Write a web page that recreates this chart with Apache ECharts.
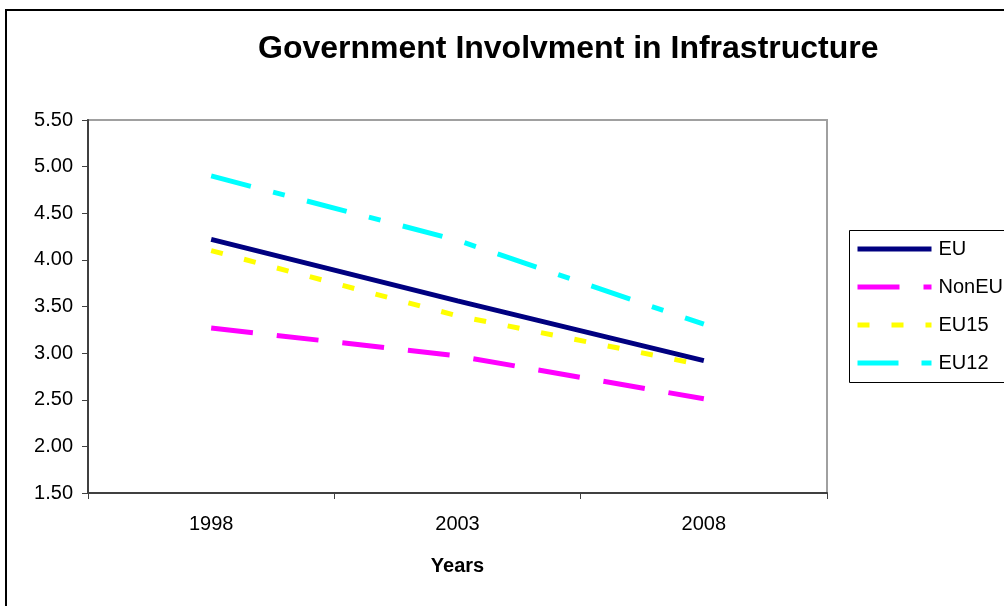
<!DOCTYPE html>
<html>
<head>
<meta charset="utf-8">
<script src="https://cdn.jsdelivr.net/npm/echarts@6/dist/echarts.min.js"></script>
<style>
  html, body { margin: 0; padding: 0; background: #fff; }
  #chart { width: 1004px; height: 606px; }
</style>
</head>
<body>
<div id="chart"></div>
<script>
// Index values per survey year
const years = ['1998', '2003', '2008'];
const seriesNames = ['EU', 'NonEU', 'EU15', 'EU12'];
const euValues = [4.22, 3.56, 2.92];
const nonEuValues = [3.27, 2.97, 2.51];
const eu15Values = [4.10, 3.40, 2.87];
const eu12Values = [4.90, 4.21, 3.31];

const FONT = '"Liberation Sans", Arial, sans-serif';

const chart = echarts.init(document.getElementById('chart'), null, { renderer: 'canvas' });

function lineSeries(name, data, color, dash) {
  return {
    name: name,
    type: 'line',
    data: data,
    symbol: 'none',
    animation: false,
    lineStyle: { color: color, width: 5, type: dash, cap: 'butt' },
    itemStyle: { color: color }
  };
}

chart.setOption({
  backgroundColor: '#ffffff',
  animation: false,
  title: {
    text: 'Government Involvment in Infrastructure',
    left: 258,
    top: 33,
    padding: 0,
    textStyle: { fontFamily: FONT, fontSize: 32, fontWeight: 'bold', color: '#000' }
  },
  grid: {
    left: 88, top: 120, right: 177, bottom: 113,
    show: true, borderColor: '#a0a0a0', borderWidth: 2, backgroundColor: '#fff'
  },
  legend: {
    orient: 'vertical',
    left: 855,
    top: 239,
    padding: 0,
    itemWidth: 74,
    itemHeight: 20,
    itemGap: 18,
    data: seriesNames,
    itemStyle: { opacity: 0 },
    lineStyle: { width: 5 },
    textStyle: { fontFamily: FONT, fontSize: 20, lineHeight: 20, color: '#000', padding: [0, 0, 0, 2] }
  },
  xAxis: {
    type: 'category',
    data: years,
    boundaryGap: true,
    name: 'Years',
    nameLocation: 'middle',
    nameGap: 63,
    nameTextStyle: { fontFamily: FONT, fontSize: 20, fontWeight: 'bold', color: '#000' },
    axisLine: { lineStyle: { color: '#404040', width: 2 } },
    axisTick: { show: true, alignWithLabel: false, length: 6, lineStyle: { color: '#404040', width: 1 } },
    axisLabel: { fontFamily: FONT, fontSize: 20, color: '#000', margin: 21 }
  },
  yAxis: {
    type: 'value',
    min: 1.5,
    max: 5.5,
    interval: 0.5,
    axisLine: { show: true, lineStyle: { color: '#404040', width: 2 } },
    axisTick: { show: true, length: 6, lineStyle: { color: '#404040', width: 1 } },
    splitLine: { show: false },
    axisLabel: {
      fontFamily: FONT, fontSize: 20, color: '#000', margin: 15,
      formatter: function (v) { return v.toFixed(2); }
    }
  },
  graphic: [
    {
      type: 'rect',
      shape: { x: 6, y: 10, width: 1200, height: 800 },
      style: { fill: 'none', stroke: '#000', lineWidth: 2 },
      silent: true,
      z: 100
    },
    {
      type: 'rect',
      shape: { x: 849.5, y: 230.5, width: 300, height: 152 },
      style: { fill: 'none', stroke: '#000', lineWidth: 1 },
      silent: true,
      z: 100
    }
  ],
  series: [
    lineSeries('EU', euValues, '#000080', 'solid'),
    lineSeries('NonEU', nonEuValues, '#ff00ff', [42, 24]),
    lineSeries('EU15', eu15Values, '#ffff00', [12, 22]),
    lineSeries('EU12', eu12Values, '#00ffff', [41, 23, 12, 23])
  ]
});
</script>
</body>
</html>
